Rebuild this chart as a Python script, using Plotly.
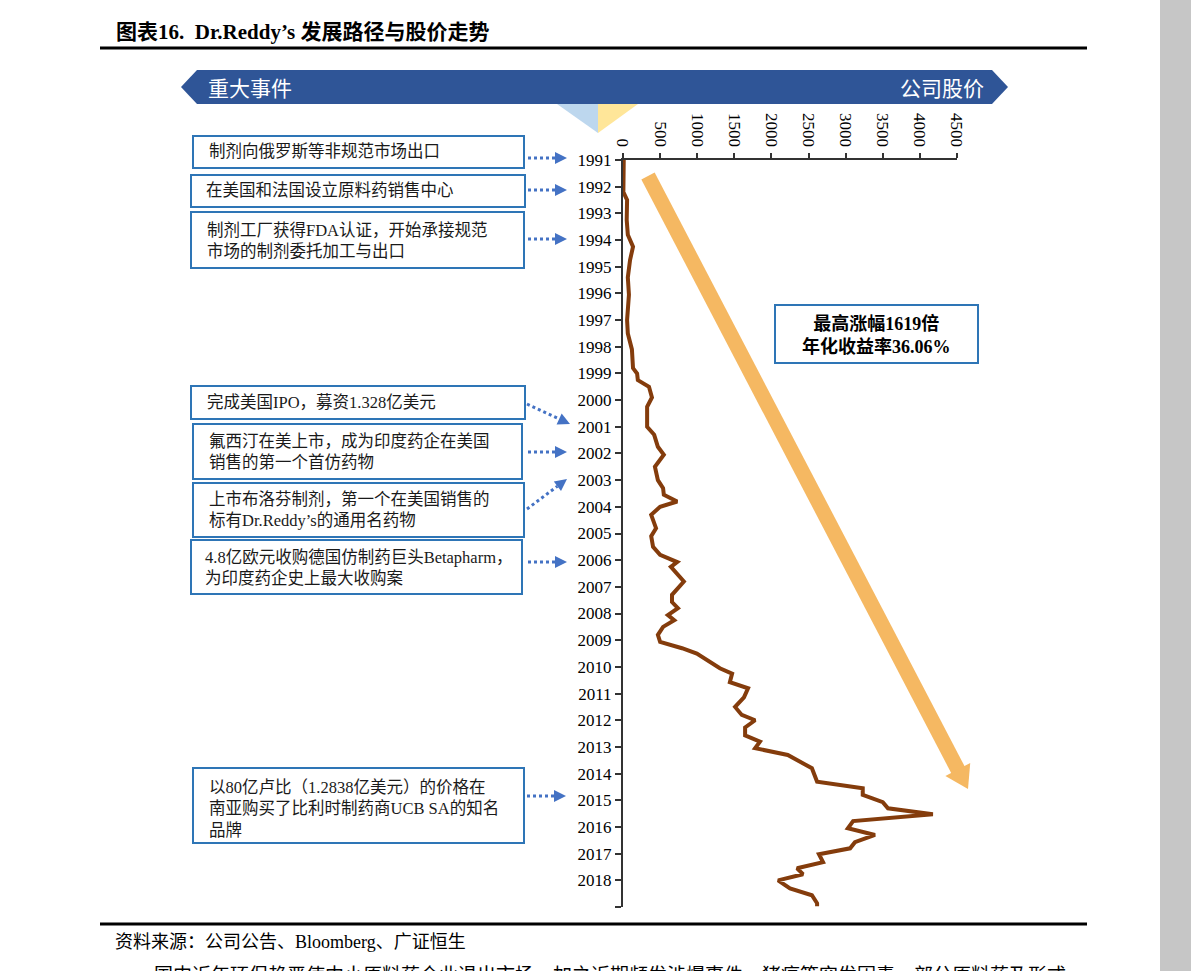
import plotly.graph_objects as go

W, H = 1191, 971

# ---------------- data ----------------
years = [1991.00, 1991.86, 1992.2, 1992.5, 1993.25, 1993.8, 1994.25, 1994.75, 1995.4, 1996.05,
         1997.0, 1997.5, 1998.1, 1998.8, 1999.0, 1999.25, 1999.5, 1999.9, 2000.25, 2001.0,
         2001.3, 2001.75, 2002.05, 2002.5, 2003.0, 2003.3, 2003.55, 2003.8, 2004.0, 2004.3,
         2004.8, 2005.1, 2005.5, 2005.8, 2006.07, 2006.25, 2006.8, 2007.3, 2007.57, 2007.8,
         2008.06, 2008.25, 2008.5, 2008.8, 2009.06, 2009.3, 2009.5, 2010.05, 2010.25, 2010.57,
         2010.8, 2011.14, 2011.5, 2011.8, 2012.0, 2012.27, 2012.57, 2012.8, 2013.05, 2013.3,
         2013.8, 2014.3, 2014.55, 2014.8, 2015.07, 2015.3, 2015.52, 2015.78, 2016.05, 2016.3,
         2016.57, 2016.8, 2017.02, 2017.32, 2017.55, 2017.77, 2018.0, 2018.3, 2018.56, 2018.86,
         2018.97]
prices = [10, 15, 5, 55, 50, 65, 135, 95, 65, 80,
          55, 65, 120, 135, 190, 200, 350, 390, 325, 325,
          420, 470, 550, 430, 470, 540, 550, 730, 500, 380,
          445, 380, 405, 500, 730, 645, 820, 660, 660, 740,
          605, 690, 540, 470, 500, 795, 995, 1305, 1470, 1440,
          1685, 1630, 1510, 1600, 1780, 1645, 1645, 1845, 1780, 2220,
          2545, 2615, 3230, 3230, 3500, 3570, 4175, 3100, 3030, 3395,
          3125, 3060, 2640, 2695, 2345, 2425, 2090, 2250, 2545, 2615,
          2615]

year_ticks = list(range(1991, 2020))
year_labels = [str(y) for y in range(1991, 2019)] + [""]
price_ticks = list(range(0, 5000, 500))

title_text = "<b>图表16.  Dr.Reddy’s 发展路径与股价走势</b>"
banner_left = "重大事件"
banner_right = "公司股价"
event_texts = [
    "制剂向俄罗斯等非规范市场出口",
    "在美国和法国设立原料药销售中心",
    "制剂工厂获得FDA认证，开始承接规范<br>市场的制剂委托加工与出口",
    "完成美国IPO，募资1.328亿美元",
    "氟西汀在美上市，成为印度药企在美国<br>销售的第一个首仿药物",
    "上市布洛芬制剂，第一个在美国销售的<br>标有Dr.Reddy’s的通用名药物",
    "4.8亿欧元收购德国仿制药巨头Betapharm，<br>为印度药企史上最大收购案",
    "以80亿卢比（1.2838亿美元）的价格在<br>南亚购买了比利时制药商UCB SA的知名<br>品牌",
]
highlight_text = "<b>最高涨幅1619倍<br>年化收益率36.06%</b>"
source_text = "资料来源：公司公告、Bloomberg、广证恒生"
body_text = "国内近年环保趋严使中小原料药企业退出市场，加之近期频发涉爆事件、猪瘟等突发因素，部分原料药及形式"

# ---------------- layout helpers (pixel -> paper) ----------------
def px(x):
    return x / W

def py(y):
    return 1 - y / H

def poly(points):
    return "M " + " L ".join(f"{px(x):.5f},{py(y):.5f}" for x, y in points) + " Z"

FONT = "Liberation Serif, Noto Sans CJK SC, serif"
BLUE_BORDER = "#2E75B6"
ARROW_BLUE = "#4472C4"

shapes = []
annotations = []

# right gray bar
shapes.append(dict(type="rect", xref="paper", yref="paper", x0=px(1160), x1=1, y0=0, y1=1,
                   fillcolor="#C6C6C6", line=dict(width=0), layer="below"))
# title rule and bottom rule
for yy in (48, 924):
    shapes.append(dict(type="line", xref="paper", yref="paper", x0=px(100), x1=px(1087),
                       y0=py(yy), y1=py(yy), line=dict(color="#000000", width=3)))
# banner
shapes.append(dict(type="path", xref="paper", yref="paper",
                   path=poly([(181, 87), (197, 70), (992, 70), (1008, 87), (992, 104), (197, 104)]),
                   fillcolor="#2F5597", line=dict(width=0)))
shapes.append(dict(type="path", xref="paper", yref="paper",
                   path=poly([(557, 104), (598, 104), (598, 133)]),
                   fillcolor="#BDD7EE", line=dict(width=0)))
shapes.append(dict(type="path", xref="paper", yref="paper",
                   path=poly([(598, 104), (638, 104), (598, 133)]),
                   fillcolor="#FFE699", line=dict(width=0)))

# event boxes: (x0, y0, x1, y1, text_x, text_y)
boxes = [
    (193, 136, 524, 168, 207, 152),
    (191, 175, 525, 207, 204, 191),
    (191, 212, 524, 268, 205, 241),
    (191, 386, 525, 419, 205, 403),
    (193, 424, 522, 479, 207, 452),
    (193, 483, 524, 537, 207, 510),
    (191, 540, 522, 594, 203, 568),
    (193, 768, 524, 843, 207, 809),
]
for (x0, y0, x1, y1, tx, ty), txt in zip(boxes, event_texts):
    shapes.append(dict(type="rect", xref="paper", yref="paper", x0=px(x0), x1=px(x1),
                       y0=py(y1), y1=py(y0), line=dict(color=BLUE_BORDER, width=2),
                       fillcolor="white"))
    annotations.append(dict(xref="paper", yref="paper", x=px(tx), y=py(ty), text=txt,
                            showarrow=False, xanchor="left", yanchor="middle", align="left",
                            font=dict(family=FONT, size=16.5, color="#1a1a1a")))

# dotted arrows
arrows = [
    (528, 158, 567, 158),
    (528, 190, 567, 190),
    (528, 239, 567, 239),
    (527, 404, 570, 424),
    (528, 452, 567, 452),
    (527, 509, 567, 479),
    (528, 562, 567, 562),
    (527, 796, 566, 796),
]
for x0, y0, x1, y1 in arrows:
    dx, dy = x1 - x0, y1 - y0
    L = (dx * dx + dy * dy) ** 0.5
    ux, uy = dx / L, dy / L
    nx, ny = -uy, ux
    bx, by = x1 - 12 * ux, y1 - 12 * uy
    shapes.append(dict(type="line", xref="paper", yref="paper", x0=px(x0), y0=py(y0),
                       x1=px(bx), y1=py(by),
                       line=dict(color=ARROW_BLUE, width=3, dash="3px,3px")))
    shapes.append(dict(type="path", xref="paper", yref="paper",
                       path=poly([(x1, y1), (bx + 6 * nx, by + 6 * ny), (bx - 6 * nx, by - 6 * ny)]),
                       fillcolor=ARROW_BLUE, line=dict(width=0)))

# big orange arrow
ox0, oy0, ox1, oy1 = 648, 176, 968, 789
dx, dy = ox1 - ox0, oy1 - oy0
L = (dx * dx + dy * dy) ** 0.5
ux, uy = dx / L, dy / L
nx, ny = -uy, ux
bx, by = ox1 - 22 * ux, oy1 - 22 * uy
ORANGE = "#F5B862"
shapes.append(dict(type="line", xref="paper", yref="paper", x0=px(ox0), y0=py(oy0),
                   x1=px(bx + 2 * ux), y1=py(by + 2 * uy), line=dict(color=ORANGE, width=15)))
shapes.append(dict(type="path", xref="paper", yref="paper",
                   path=poly([(ox1, oy1), (bx + 14 * nx, by + 14 * ny), (bx - 14 * nx, by - 14 * ny)]),
                   fillcolor=ORANGE, line=dict(width=0)))

# highlight box
shapes.append(dict(type="rect", xref="paper", yref="paper", x0=px(775), x1=px(978),
                   y0=py(363), y1=py(305), line=dict(color=BLUE_BORDER, width=2),
                   fillcolor="white"))
annotations.append(dict(xref="paper", yref="paper", x=px(876), y=py(335), text=highlight_text,
                        showarrow=False, xanchor="center", yanchor="middle", align="center",
                        font=dict(family=FONT, size=18, color="#000000")))

# texts: title, banner, source, body
annotations += [
    dict(xref="paper", yref="paper", x=px(114), y=py(32), text=title_text, showarrow=False,
         xanchor="left", yanchor="middle", font=dict(family=FONT, size=21, color="#000000")),
    dict(xref="paper", yref="paper", x=px(206), y=py(87), text=banner_left, showarrow=False,
         xanchor="left", yanchor="middle", font=dict(family="Noto Sans CJK SC", size=21, color="white")),
    dict(xref="paper", yref="paper", x=px(986), y=py(87), text=banner_right, showarrow=False,
         xanchor="right", yanchor="middle", font=dict(family="Noto Sans CJK SC", size=21, color="white")),
    dict(xref="paper", yref="paper", x=px(113), y=py(942), text=source_text, showarrow=False,
         xanchor="left", yanchor="middle", font=dict(family=FONT, size=18, color="#000000")),
    dict(xref="paper", yref="paper", x=px(152), y=py(976), text=body_text, showarrow=False,
         xanchor="left", yanchor="middle", font=dict(family=FONT, size=19, color="#000000")),
]

# ---------------- figure ----------------
fig = go.Figure()
fig.add_trace(go.Scatter(x=prices, y=years, mode="lines",
                         line=dict(color="#843C0C", width=4), hoverinfo="skip"))

fig.update_layout(
    width=W, height=H,
    margin=dict(l=0, r=0, t=0, b=0),
    paper_bgcolor="white", plot_bgcolor="rgba(0,0,0,0)",
    showlegend=False,
    shapes=shapes, annotations=annotations,
    xaxis=dict(domain=[px(623), px(957)], range=[0, 4500], side="top", anchor="y",
               tickvals=price_ticks, tickangle=90, showline=True, linecolor="#333333",
               linewidth=2, ticks="outside", ticklen=5, tickwidth=1.5, tickcolor="#333333",
               showgrid=False, zeroline=False, automargin=False,
               tickfont=dict(family=FONT, size=17, color="#000000")),
    yaxis=dict(domain=[py(907), py(160)], range=[2019, 1991], anchor="x",
               tickvals=year_ticks, ticktext=year_labels, showline=True, linecolor="#333333",
               linewidth=2, ticks="outside", ticklen=6, tickwidth=1.5, tickcolor="#333333",
               showgrid=False, zeroline=False, automargin=False,
               tickfont=dict(family=FONT, size=17, color="#000000")),
)

fig.write_html("out.html", config={"displayModeBar": False},
               post_script="document.body.style.margin='0';document.body.style.overflow='hidden';")
